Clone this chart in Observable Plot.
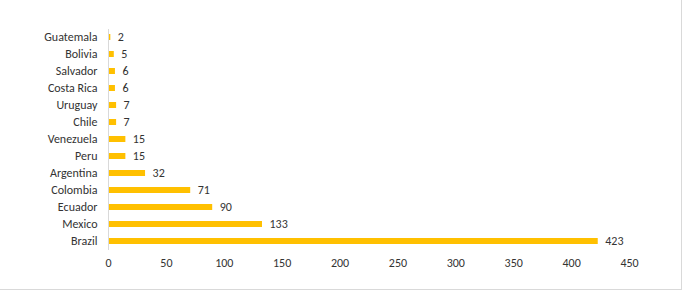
<!DOCTYPE html>
<html>
<head>
<meta charset="utf-8">
<script src="https://cdn.jsdelivr.net/npm/d3@7"></script>
<script src="https://cdn.jsdelivr.net/npm/@observablehq/plot@0.6"></script>
<style>
  html, body { margin: 0; padding: 0; background: #fff; }
  #wrap { position: relative; width: 683px; height: 291px; overflow: hidden; }
  #wrap svg { position: absolute; left: 0; top: 0; }
  #border { position: absolute; left: -2px; top: -2px; width: 684px; height: 292px; box-sizing: border-box; border: 1px solid #d9d9d9; pointer-events: none; }
</style>
</head>
<body>
<div id="wrap"><div id="border"></div></div>
<script>
const countries = ["Guatemala","Bolivia","Salvador","Costa Rica","Uruguay","Chile","Venezuela","Peru","Argentina","Colombia","Ecuador","Mexico","Brazil"];
const values = [2,5,6,6,7,7,15,15,32,71,90,133,423];
const xTicks = [0,50,100,150,200,250,300,350,400,450];

const data = countries.map((c, i) => ({country: c, value: values[i]}));

const chart = Plot.plot({
  width: 683,
  height: 291,
  marginLeft: 108,
  marginRight: 54,
  marginTop: 18,
  marginBottom: 31,
  style: {fontFamily: "Carlito, Lato, 'Liberation Sans', sans-serif", fontSize: "12px", color: "#333", background: "transparent"},
  x: {domain: [0, 450], label: null},
  y: {domain: countries, padding: 0.64, label: null},
  marks: [
    Plot.barX(data, {x: "value", y: "country", fill: "#FFC000"}),
    Plot.ruleX([0], {stroke: "#d9d9d9", strokeWidth: 1, insetTop: 11, insetBottom: 10}),
    Plot.text(data, {x: "value", y: "country", text: d => String(d.value), textAnchor: "start", dx: 7, fill: "#333", fontSize: 12}),
    Plot.axisY({tickSize: 0, tickPadding: 11, label: null, fill: "#333"}),
    Plot.axisX({ticks: xTicks, tickSize: 0, tickPadding: 0, dy: -2, label: null, fill: "#333"})
  ]
});
document.getElementById("wrap").appendChild(chart);
</script>
</body>
</html>
